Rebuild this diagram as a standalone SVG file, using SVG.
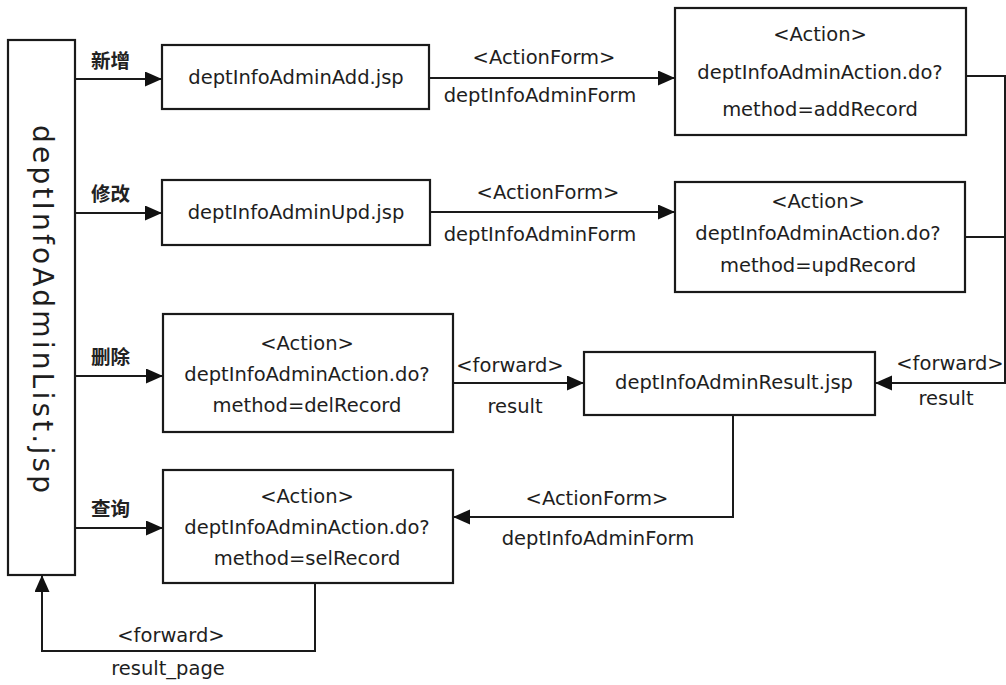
<svg xmlns="http://www.w3.org/2000/svg" width="1006" height="685" viewBox="0 0 1006 685">
<style>
  .box { fill: #ffffff; stroke: #1a1a1a; stroke-width: 2.2; }
  .t { font-family: "DejaVu Sans", "Liberation Sans", sans-serif; font-size: 19.5px; fill: #1e1e1e; text-anchor: middle; }
  .cn { font-family: "Noto Sans CJK SC", "DejaVu Sans", sans-serif; font-size: 19.5px; font-weight: bold; fill: #222; }
  .ln { fill: none; stroke: #1a1a1a; stroke-width: 2; }
  .v { font-family: "DejaVu Sans", "Liberation Sans", sans-serif; font-size: 28px; fill: #1e1e1e; text-anchor: middle; }
</style>
<defs>
  <marker id="ah" markerUnits="userSpaceOnUse" markerWidth="18" markerHeight="16" refX="17" refY="7.5" orient="auto">
    <path d="M0,0 L17,7.5 L0,15 z" fill="#111"/>
  </marker>
</defs>
<rect width="1006" height="685" fill="#ffffff"/>

<g id="list">
  <rect class="box" x="8" y="40" width="67" height="535"/>
  <text class="v" transform="translate(33,309) rotate(90)" textLength="368" lengthAdjust="spacing">deptInfoAdminList.jsp</text>
</g>

<g id="add">
  <rect class="box" x="162" y="45" width="267" height="64"/>
  <text class="t" x="296" y="84">deptInfoAdminAdd.jsp</text>
</g>

<g id="upd">
  <rect class="box" x="162" y="180" width="268" height="65"/>
  <text class="t" x="296" y="219">deptInfoAdminUpd.jsp</text>
</g>

<g id="action-add">
  <rect class="box" x="675" y="8" width="291" height="127"/>
  <text class="t" x="820" y="41">&lt;Action&gt;</text>
  <text class="t" x="820" y="79">deptInfoAdminAction.do?</text>
  <text class="t" x="820" y="116">method=addRecord</text>
</g>

<g id="action-upd">
  <rect class="box" x="675" y="182" width="290" height="110"/>
  <text class="t" x="818" y="208">&lt;Action&gt;</text>
  <text class="t" x="818" y="240">deptInfoAdminAction.do?</text>
  <text class="t" x="818" y="272">method=updRecord</text>
</g>

<g id="action-del">
  <rect class="box" x="163" y="314" width="290" height="118"/>
  <text class="t" x="307" y="350">&lt;Action&gt;</text>
  <text class="t" x="307" y="381">deptInfoAdminAction.do?</text>
  <text class="t" x="307" y="412">method=delRecord</text>
</g>

<g id="action-sel">
  <rect class="box" x="163" y="470" width="290" height="113"/>
  <text class="t" x="307" y="503">&lt;Action&gt;</text>
  <text class="t" x="307" y="534">deptInfoAdminAction.do?</text>
  <text class="t" x="307" y="565">method=selRecord</text>
</g>

<g id="result">
  <rect class="box" x="584" y="352" width="291" height="63"/>
  <text class="t" x="734" y="389">deptInfoAdminResult.jsp</text>
</g>

<g id="connectors">
  <line class="ln" x1="75" y1="79" x2="162" y2="79" marker-end="url(#ah)"/>
  <line class="ln" x1="75" y1="213" x2="162" y2="213" marker-end="url(#ah)"/>
  <line class="ln" x1="75" y1="376" x2="163" y2="376" marker-end="url(#ah)"/>
  <line class="ln" x1="75" y1="528" x2="163" y2="528" marker-end="url(#ah)"/>

  <line class="ln" x1="429" y1="78" x2="675" y2="78" marker-end="url(#ah)"/>
  <line class="ln" x1="430" y1="212" x2="675" y2="212" marker-end="url(#ah)"/>

  <polyline class="ln" points="966,76 1005,76 1005,383 875,383" marker-end="url(#ah)"/>
  <line class="ln" x1="965" y1="237" x2="1005" y2="237"/>

  <line class="ln" x1="453" y1="383" x2="584" y2="383" marker-end="url(#ah)"/>
  <polyline class="ln" points="733,415 733,517 453,517" marker-end="url(#ah)"/>
  <polyline class="ln" points="315,583 315,651 42,651 42,575" marker-end="url(#ah)"/>
</g>

<g id="labels">
  <text class="cn" x="91" y="68">新增</text>
  <text class="cn" x="91" y="201">修改</text>
  <text class="cn" x="91" y="364">删除</text>
  <text class="cn" x="91" y="516">查询</text>

  <text class="t" x="544" y="64">&lt;ActionForm&gt;</text>
  <text class="t" x="540" y="102">deptInfoAdminForm</text>
  <text class="t" x="548" y="199">&lt;ActionForm&gt;</text>
  <text class="t" x="540" y="241">deptInfoAdminForm</text>

  <text class="t" x="510" y="372">&lt;forward&gt;</text>
  <text class="t" x="515" y="413">result</text>

  <text class="t" x="950" y="370">&lt;forward&gt;</text>
  <text class="t" x="946" y="405">result</text>

  <text class="t" x="597" y="505">&lt;ActionForm&gt;</text>
  <text class="t" x="598" y="545">deptInfoAdminForm</text>

  <text class="t" x="171" y="642">&lt;forward&gt;</text>
  <text class="t" x="168" y="675">result_page</text>
</g>
</svg>
